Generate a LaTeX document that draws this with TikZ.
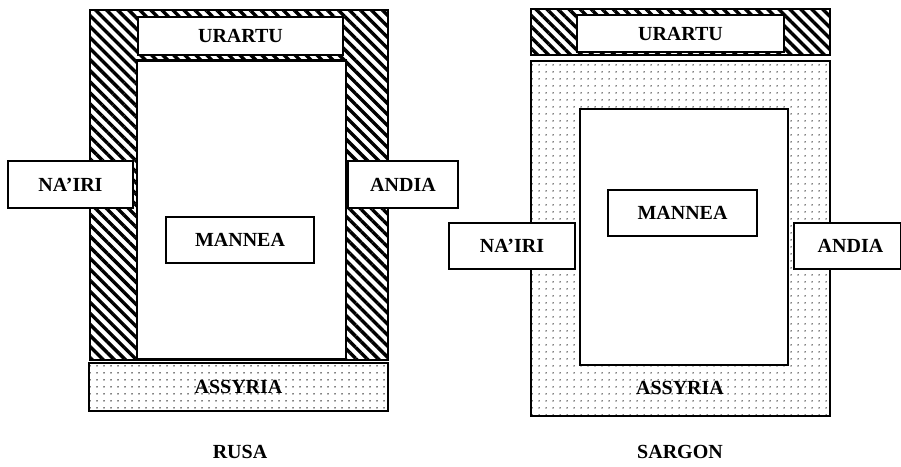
\documentclass[tikz,border=0pt]{standalone}
\usepackage{fontspec}
\setmainfont{Liberation Serif}
\usetikzlibrary{patterns.meta}
\tikzset{
  box/.style={draw=black, line width=1.2pt, fill=white, rectangle, inner sep=0pt, font=\fontsize{20}{23}\selectfont\bfseries},
  hatchbox/.style={draw=black, line width=1.2pt, rectangle, inner sep=0pt,
    pattern={Lines[angle=-45, distance=7.8pt, line width=3.4pt]}},
  dotbox/.style={draw=black, line width=1.4pt, rectangle, inner sep=0pt, font=\fontsize{20}{23}\selectfont\bfseries,
    pattern={Dots[distance=6.5pt, radius=0.8pt]}},
  innerbox/.style={draw=black, line width=2.6pt, fill=white, rectangle, inner sep=0pt},
  caption/.style={font=\fontsize{20}{23}\selectfont\bfseries, inner sep=0pt}
}
\begin{document}
\begin{tikzpicture}[x=1pt, y=-1pt]
\useasboundingbox[fill=white] (0,0) rectangle (901,466);
% ---- RUSA (left) ----
\node[hatchbox, minimum width=298pt, minimum height=350pt] (outerL) at (239,185) {};
\node[box, minimum width=205pt, minimum height=38pt] (urartuL) at (240.5,36) {URARTU};
\node[innerbox, line width=2.2pt, minimum width=209pt, minimum height=299pt] (innerL) at (241.5,210) {};
\node[box, minimum width=148pt, minimum height=46pt] (manneaL) at (240,240) {MANNEA};
\node[box, minimum width=125pt, minimum height=47pt] (nairiL) at (70.5,184.5) {NA'IRI};
\node[box, minimum width=110pt, minimum height=47pt] (andiaL) at (403,184.5) {ANDIA};
\node[dotbox, minimum width=299pt, minimum height=48pt] (assyriaL) at (238.5,387) {ASSYRIA};
\node[caption] (rusa) at (240,452) {RUSA};
% ---- SARGON (right) ----
\node[hatchbox, minimum width=299pt, minimum height=46pt] (stripR) at (680.5,32) {};
\node[box, minimum width=207pt, minimum height=37pt] (urartuR) at (680.5,33.5) {URARTU};
\node[dotbox, minimum width=299pt, minimum height=355pt] (outerR) at (680.5,238.5) {};
\node[innerbox, minimum width=208pt, minimum height=256pt] (innerR) at (684,237) {};
\node[box, minimum width=149pt, minimum height=46pt] (manneaR) at (682.5,213) {MANNEA};
\node[box, minimum width=126pt, minimum height=46pt] (nairiR) at (512,246) {NA'IRI};
\node[box, minimum width=107pt, minimum height=46pt, text width=107pt, align=center] (andiaR) at (847.5,246) {\hspace*{6pt}ANDIA};
\node[caption] (assyriaR) at (680,388) {ASSYRIA};
\node[caption] (sargon) at (680,452) {SARGON};
\end{tikzpicture}
\end{document}
